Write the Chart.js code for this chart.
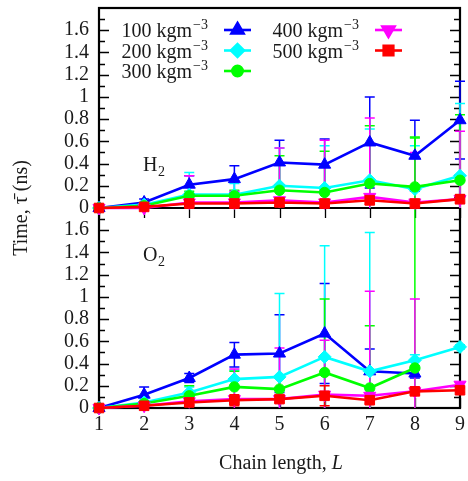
<!DOCTYPE html>
<html>
<head>
<meta charset="utf-8">
<script src="https://cdn.jsdelivr.net/npm/chart.js@4/dist/chart.umd.min.js"></script>
<style>
  html, body { margin: 0; padding: 0; background: #fff; }
  #wrap { width: 468px; height: 481px; }
</style>
</head>
<body>
<div id="wrap"><canvas id="tauChart" width="468" height="481"></canvas></div>
<script>
// chain lengths on the shared x axis
const chainLength = [1, 2, 3, 4, 5, 6, 7, 8, 9];
const densities = ["100", "200", "300", "400", "500"];

// H2 mean times (ns) and their error bars
const h2Rho100 = [0, 0.05, 0.21, 0.26, 0.41, 0.39, 0.59, 0.47, 0.79];
const h2Rho200 = [0, 0.03, 0.12, 0.12, 0.20, 0.18, 0.25, 0.17, 0.29];
const h2Rho300 = [0, 0.02, 0.11, 0.11, 0.16, 0.14, 0.22, 0.19, 0.25];
const h2Rho400 = [0, 0.00, 0.05, 0.05, 0.07, 0.05, 0.10, 0.05, 0.08];
const h2Rho500 = [0, 0.01, 0.04, 0.04, 0.05, 0.04, 0.07, 0.04, 0.08];
const h2Err100 = [0, 0.03, 0.08, 0.12, 0.20, 0.23, 0.41, 0.32, 0.35];
const h2Err200 = [0, 0.02, 0.20, 0.10, 0.34, 0.38, 0.46, 0.39, 0.65];
const h2Err300 = [0, 0.01, 0.04, 0.05, 0.31, 0.37, 0.52, 0.44, 0.59];
const h2Err400 = [0, 0.01, 0.24, 0.10, 0.47, 0.56, 0.71, 0.45, 0.61];
const h2Err500 = [0, 0.01, 0.02, 0.02, 0.03, 0.03, 0.04, 0.03, 0.04];

// O2 mean times (ns) and their error bars
const o2Rho100 = [0, 0.12, 0.27, 0.48, 0.49, 0.67, 0.33, 0.31, null];
const o2Rho200 = [0, 0.05, 0.14, 0.26, 0.28, 0.46, 0.33, 0.43, 0.55];
const o2Rho300 = [0, 0.04, 0.11, 0.19, 0.17, 0.32, 0.18, 0.36, null];
const o2Rho400 = [0, 0.02, 0.06, 0.08, 0.08, 0.12, 0.11, 0.15, 0.21];
const o2Rho500 = [0, 0.02, 0.05, 0.07, 0.08, 0.11, 0.07, 0.15, 0.16];
const o2Err100 = [0, 0.07, 0.04, 0.11, 0.35, 0.45, 0.20, 0.04, null];
const o2Err200 = [0, 0.02, 0.05, 0.08, 0.75, 1.00, 1.25, 0.05, 0.02];
const o2Err300 = [0, 0.02, 0.09, 0.14, 0.10, 0.66, 0.56, 2.08, null];
const o2Err400 = [0, 0.03, 0.03, 0.27, 0.46, 0.49, 0.94, 0.83, 0.02];
const o2Err500 = [0, 0.02, 0.02, 0.05, 0.03, 0.09, 0.03, 0.03, 0.02];

const colors = ["#0000ff", "#00ffff", "#00ff00", "#ff00ff", "#ff0000"];
const shapes = [
  { pointStyle: "triangle", pointRadius: 7, pointRotation: 0 },
  { pointStyle: "rectRot", pointRadius: 6.5, pointRotation: 0 },
  { pointStyle: "circle", pointRadius: 5.2, pointRotation: 0 },
  { pointStyle: "triangle", pointRadius: 7, pointRotation: 180 },
  { pointStyle: "rect", pointRadius: 6.8, pointRotation: 0 },
];

const SERIF = "'Liberation Serif', 'DejaVu Serif', serif";
const TEXT = "#1a1a1a";

function makeSet(values, errors, k, axis) {
  const pts = [];
  values.forEach((v, i) => {
    if (v !== null) pts.push({ x: chainLength[i], y: v, err: errors[i] });
  });
  return {
    label: densities[k],
    data: pts,
    yAxisID: axis,
    borderColor: colors[k],
    backgroundColor: colors[k],
    borderWidth: 2.6,
    pointBorderWidth: 1,
    tension: 0,
    clip: false,
    order: 5 - k,
    ...shapes[k],
  };
}

const h2Sets = [
  [h2Rho100, h2Err100], [h2Rho200, h2Err200], [h2Rho300, h2Err300],
  [h2Rho400, h2Err400], [h2Rho500, h2Err500],
].map((s, k) => makeSet(s[0], s[1], k, "yH"));
const o2Sets = [
  [o2Rho100, o2Err100], [o2Rho200, o2Err200], [o2Rho300, o2Err300],
  [o2Rho400, o2Err400], [o2Rho500, o2Err500],
].map((s, k) => makeSet(s[0], s[1], k, "yO"));

// frame, inward ticks and the error bars, under the lines
const frameAndErrors = {
  id: "frameAndErrors",
  beforeDatasetsDraw(chart) {
    const { ctx, chartArea: a, scales } = chart;
    const mid = scales.yH.getPixelForValue(0);
    ctx.save();
    ctx.strokeStyle = "#000";
    ctx.lineWidth = 1.3;
    ["yH", "yO"].forEach((id) => {
      const s = scales[id];
      for (let t = 1; t < 18; t++) {
        const y = Math.round(s.getPixelForValue(t / 10)) + 0.5;
        const len = t % 2 === 0 ? 10 : 6;
        ctx.beginPath();
        ctx.moveTo(a.left, y); ctx.lineTo(a.left + len, y);
        ctx.moveTo(a.right, y); ctx.lineTo(a.right - len, y);
        ctx.stroke();
      }
    });
    chainLength.forEach((v) => {
      const x = Math.round(scales.x.getPixelForValue(v)) + 0.5;
      ctx.beginPath();
      ctx.moveTo(x, a.bottom); ctx.lineTo(x, a.bottom - 10);
      ctx.moveTo(x, mid); ctx.lineTo(x, mid + 10);
      ctx.stroke();
    });
    ctx.lineWidth = 2.2;
    ctx.strokeRect(a.left, a.top, a.right - a.left, a.bottom - a.top);
    ctx.beginPath();
    ctx.moveTo(a.left, mid); ctx.lineTo(a.right, mid);
    ctx.stroke();

    // error bars: lower end stops at the panel's zero line
    ctx.beginPath();
    ctx.rect(a.left - 10, a.top, a.right - a.left + 20, a.bottom - a.top);
    ctx.clip();
    ctx.lineWidth = 1.5;
    chart.data.datasets.forEach((ds) => {
      const ys = scales[ds.yAxisID];
      ctx.strokeStyle = ds.borderColor;
      ds.data.forEach((p) => {
        if (!p.err) return;
        const x = scales.x.getPixelForValue(p.x);
        const hi = ys.getPixelForValue(p.y + p.err);
        const loVal = p.y - p.err;
        const lo = ys.getPixelForValue(Math.max(loVal, 0));
        ctx.beginPath();
        ctx.moveTo(x, hi); ctx.lineTo(x, lo);
        ctx.moveTo(x - 5, hi); ctx.lineTo(x + 5, hi);
        if (loVal >= 0) { ctx.moveTo(x - 5, lo); ctx.lineTo(x + 5, lo); }
        ctx.stroke();
      });
    });
    ctx.restore();
  },
};

// key, panel labels and axis titles
const annotations = {
  id: "annotations",
  afterDraw(chart) {
    const { ctx, chartArea: a } = chart;
    ctx.save();
    ctx.fillStyle = TEXT;
    ctx.textBaseline = "alphabetic";

    const keyRows = [
      { k: 0, tx: 192, sx: 224, y: 30 },
      { k: 1, tx: 192, sx: 224, y: 50.5 },
      { k: 2, tx: 192, sx: 224, y: 71 },
      { k: 3, tx: 343, sx: 375, y: 30 },
      { k: 4, tx: 343, sx: 375, y: 50.5 },
    ];
    keyRows.forEach((r) => {
      ctx.fillStyle = TEXT;
      ctx.font = "20px " + SERIF;
      ctx.textAlign = "right";
      ctx.fillText(densities[r.k] + " kgm", r.tx, r.y + 7);
      ctx.font = "14px " + SERIF;
      ctx.textAlign = "left";
      ctx.fillText("\u22123", r.tx + 1, r.y - 1);
      ctx.strokeStyle = colors[r.k];
      ctx.lineWidth = 2.6;
      ctx.beginPath();
      ctx.moveTo(r.sx, r.y); ctx.lineTo(r.sx + 27, r.y);
      ctx.stroke();
      ctx.fillStyle = colors[r.k];
      Chart.helpers.drawPoint(ctx, {
        pointStyle: shapes[r.k].pointStyle,
        radius: shapes[r.k].pointRadius,
        rotation: shapes[r.k].pointRotation,
        borderWidth: 1,
      }, r.sx + 13.5, r.y);
    });

    ctx.fillStyle = TEXT;
    ctx.textAlign = "left";
    ctx.font = "20px " + SERIF;
    ctx.fillText("H", 143, 171);
    ctx.fillText("O", 143, 261);
    ctx.font = "14px " + SERIF;
    ctx.fillText("2", 158, 176);
    ctx.fillText("2", 158, 266);

    const xt = "Chain length, ";
    ctx.font = "italic 20px " + SERIF;
    const wL = ctx.measureText("L").width;
    ctx.font = "20px " + SERIF;
    const wT = ctx.measureText(xt).width;
    const x0 = 281 - (wT + wL) / 2;
    ctx.textAlign = "left";
    ctx.fillText(xt, x0, 469);
    ctx.font = "italic 20px " + SERIF;
    ctx.fillText("L", x0 + wT, 469);

    ctx.translate(27, (a.top + a.bottom) / 2);
    ctx.rotate(-Math.PI / 2);
    ctx.textAlign = "center";
    ctx.font = "20px " + SERIF;
    ctx.fillText("Time, \u03C4\u0304 (ns)", 0, 0);
    ctx.restore();
  },
};

function yAxis() {
  return {
    type: "linear",
    position: "left",
    stack: "tau",
    stackWeight: 1,
    min: 0,
    max: 1.8,
    grid: { display: false, drawTicks: false },
    border: { display: false },
    ticks: {
      stepSize: 0.2,
      autoSkip: false,
      padding: 10,
      color: TEXT,
      font: { family: SERIF, size: 20 },
      callback: (v) => (v > 1.7 ? "" : String(Math.round(v * 10) / 10)),
    },
    afterFit: (s) => {
      s.width = 99;
      s.paddingTop = 0;
      s.paddingBottom = 0;
    },
  };
}

new Chart(document.getElementById("tauChart"), {
  type: "line",
  data: { datasets: [...h2Sets, ...o2Sets] },
  options: {
    responsive: false,
    animation: false,
    devicePixelRatio: 1,
    layout: { padding: { top: 7, right: 7, left: 0, bottom: 0 } },
    plugins: { legend: { display: false }, tooltip: { enabled: false } },
    scales: {
      x: {
        type: "linear",
        min: 1,
        max: 9,
        grid: { display: false, drawTicks: false },
        border: { display: false },
        ticks: {
          stepSize: 1,
          autoSkip: false,
          padding: 5,
          color: TEXT,
          font: { family: SERIF, size: 20 },
        },
        afterFit: (s) => {
          s.height = 73;
          s.paddingLeft = 0;
          s.paddingRight = 0;
        },
      },
      yO: yAxis(),
      yH: yAxis(),
    },
  },
  plugins: [frameAndErrors, annotations],
});
</script>
</body>
</html>
